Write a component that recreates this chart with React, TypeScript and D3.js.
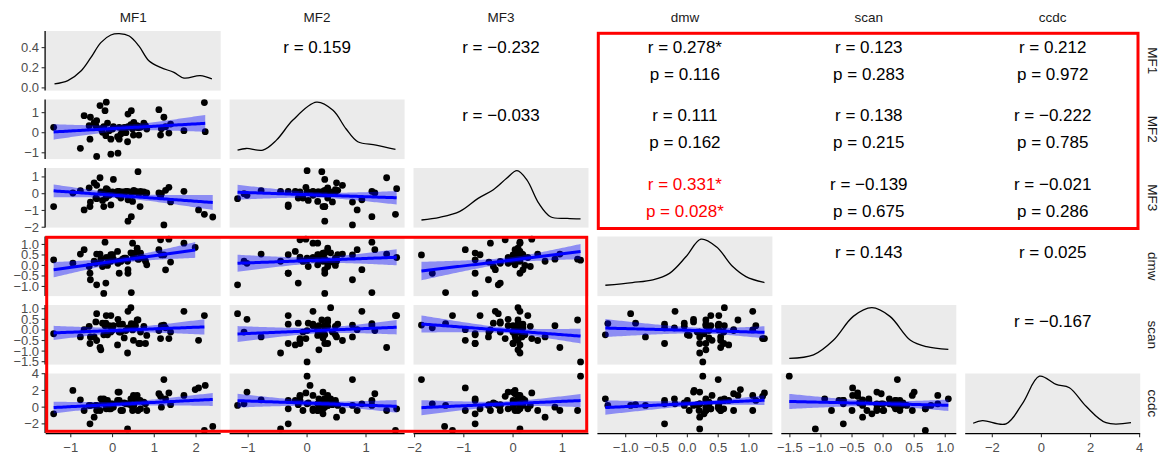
import React from "react";
import * as d3 from "d3";

// ---------- data ----------
const VARS = ["MF1", "MF2", "MF3", "dmw", "scan", "ccdc"];

const MF1 = [-1.41, -0.95, -0.77, -0.68, -0.56, -0.54, -0.53, -0.44, -0.40, -0.38, -0.38, -0.30, -0.28, -0.24, -0.21, -0.18, -0.16, -0.15, -0.12, -0.08, -0.04, -0.04, 0.00, 0.02, 0.12, 0.13, 0.16, 0.16, 0.20, 0.24, 0.28, 0.32, 0.36, 0.37, 0.37, 0.44, 0.45, 0.48, 0.50, 0.51, 0.55, 0.59, 0.61, 0.63, 0.66, 0.67, 0.75, 0.79, 0.82, 1.11, 1.15, 1.17, 1.23, 1.27, 1.35, 1.39, 1.71, 1.98, 2.06, 2.20, 2.22, 2.40, null];
const MF2 = [0.27, null, -0.78, 0.85, 0.35, -0.32, 0.77, 0.5, 0.35, 0.6, -1.18, 1.35, 0.2, 0.02, 0.3, 1.1, -0.15, 1.52, 0.48, 0.1, -0.32, -1.07, 0.18, 0.3, -0.2, -1.02, -0.32, 0.27, -0.07, 0.1, 0.27, 0.0, -0.45, 0.93, 0.3, 0.4, 1.1, 0.18, -0.12, 0.52, 0.3, 0.35, 0.25, -0.12, 0.3, 0.27, 0.48, 0.35, 0.18, 1.15, -0.12, 0.2, 0.77, 0.3, -0.02, 0.43, 0.1, null, null, 1.5, 0.05, null, 0.0];
const MF3 = [-0.77, 0.04, 0.18, -0.97, 0.35, -0.77, -0.5, 0.65, -0.26, 0.5, -0.3, 0.95, 0.1, -0.4, -0.77, 0.14, -0.26, 0.3, 0.24, -0.1, -0.67, 0.0, 0.1, 0.85, 0.14, -0.1, 0.14, 0.0, -0.26, 0.1, 0.05, 0.14, 0.14, -0.36, -1.64, 0.1, -1.37, -0.46, 0.1, 0.2, 0.14, 0.1, 1.31, 0.0, -0.77, 0.14, 0.1, 0.0, 0.04, 0.04, -0.16, 0.0, -1.86, 0.2, 0.38, -0.49, 0.14, null, -0.97, -1.23, null, -1.39, 1.37];
const DMW = [0.27, 0.11, 0.54, 0.75, -0.05, -0.37, -0.68, 0.2, 0.1, 0.54, -0.92, 0.54, 0.3, -0.05, -1.33, 1.11, -0.84, 0.38, 0.0, 0.38, 0.51, 0.2, 0.51, 0.3, 0.67, 0.1, -0.37, 0.2, 0.19, 0.3, 0.35, 0.35, 0.2, -0.2, -0.37, 0.6, -1.29, 1.06, 0.4, 0.51, 0.6, 0.82, 0.3, 0.3, 0.59, 0.59, 0.35, 0.2, 0.03, 0.75, 1.22, 0.5, 0.5, -0.21, 1.25, 0.16, 1.06, 0.86, null, null, null, null, 0.25];
const SCAN = [-0.18, null, -0.33, 0.01, 0.17, -0.64, -0.33, -0.33, 0.38, -0.5, 0.77, -0.83, -0.94, 0.32, -0.23, 0.2, 0.32, 0.68, -0.23, 0.2, 0.68, -0.1, 0.0, 0.2, -0.71, 0.5, 0.27, -0.1, -0.1, 0.27, -0.38, -0.03, -1.09, 0.88, 0.1, 1.05, 0.3, 0.0, -0.49, 0.27, 0.2, 0.47, 0.47, -0.64, -0.64, -0.1, 0.17, -0.64, -0.26, -0.03, -0.41, 0.2, 0.23, 0.1, -0.41, -0.1, 0.88, null, -0.49, 0.68, null, null, -1.51];
const CCDC = [-0.8, 2.0, 0.88, -0.4, 0.2, -2.0, 0.2, -1.2, 0.2, -0.4, 0.2, -0.4, 1.0, 0.5, 1.0, 0.8, 0.3, -0.2, 0.8, -0.2, -0.2, 0.4, 0.4, 0.0, 0.8, 1.8, 0.8, 1.8, -0.4, -0.4, 0.5, 0.4, -2.6, 0.4, 0.4, 1.0, 0.2, -0.4, 1.4, 0.2, 0.8, 1.4, -0.4, 0.8, 0.8, -0.2, 0.6, 0.4, -0.4, 1.6, 1.3, 0.0, 3.3, 1.0, 1.7, 0.3, 1.4, 2.1, 2.3, -2.78, 2.6, -2.3, 3.7];

const DATA: Record<string, (number | null)[]> = { MF1, MF2, MF3, dmw: DMW, scan: SCAN, ccdc: CCDC };

// density curves
const DENS_MF1_X = [-1.39, -1.07, -0.75, -0.52, -0.28, -0.04, 0.16, 0.40, 0.63, 0.87, 1.15, 1.47, 1.71, 2.10, 2.38];
const DENS_MF1_Y = [0.039, 0.072, 0.17, 0.30, 0.45, 0.525, 0.538, 0.515, 0.417, 0.27, 0.203, 0.154, 0.098, 0.121, 0.089];
const DENS_MF2_X = [-1.18, -1.03, -0.75, -0.52, -0.24, 0.16, 0.44, 0.66, 0.86, 1.17, 1.50];
const DENS_MF2_Y = [0.115, 0.146, 0.115, 0.3, 0.67, 1.0, 0.85, 0.51, 0.27, 0.21, 0.13];
const DENS_MF3_X = [-1.86, -1.49, -1.08, -0.71, -0.40, -0.13, 0.08, 0.28, 0.52, 0.76, 1.10, 1.37];
const DENS_MF3_Y = [0.09, 0.14, 0.25, 0.49, 0.65, 0.86, 1.0, 0.83, 0.4, 0.15, 0.12, 0.11];
const DENS_DMW_X = [-1.33, -0.89, -0.56, -0.29, -0.02, 0.22, 0.47, 0.74, 0.95, 1.25];
const DENS_DMW_Y = [0.15, 0.2, 0.25, 0.37, 0.68, 1.0, 0.86, 0.49, 0.31, 0.2];
const DENS_SCAN_X = [-1.51, -1.12, -0.80, -0.48, -0.18, 0.11, 0.44, 0.70, 1.05];
const DENS_SCAN_Y = [0.065, 0.13, 0.4, 0.84, 1.0, 0.84, 0.4, 0.28, 0.23];
const DENS_CCDC_X = [-2.78, -2.40, -1.44, -0.76, -0.08, 0.60, 1.14, 1.82, 2.63, 3.65];
const DENS_CCDC_Y = [0.13, 0.18, 0.12, 0.5, 0.99, 0.84, 0.78, 0.44, 0.14, 0.14];

const DENS: Record<string, [number[], number[]]> = {
  MF1: [DENS_MF1_X, DENS_MF1_Y],
  MF2: [DENS_MF2_X, DENS_MF2_Y],
  MF3: [DENS_MF3_X, DENS_MF3_Y],
  dmw: [DENS_DMW_X, DENS_DMW_Y],
  scan: [DENS_SCAN_X, DENS_SCAN_Y],
  ccdc: [DENS_CCDC_X, DENS_CCDC_Y],
};

// tick labels
const TICKS: Record<string, number[]> = {
  MF1: [-1, 0, 1, 2],
  MF2: [-1, 0, 1],
  MF3: [-2, -1, 0, 1],
  dmw: [-1.0, -0.5, 0.0, 0.5, 1.0],
  scan: [-1.5, -1.0, -0.5, 0.0, 0.5, 1.0],
  ccdc: [-2, 0, 2, 4],
};
const TICK_FMT: Record<string, string> = { MF1: "d", MF2: "d", MF3: "d", dmw: ".1f", scan: ".1f", ccdc: "d" };
const DENS_TICKS = [0.0, 0.2, 0.4];

// correlation text (upper triangle)
const CORR_ROW = [0, 0, 1, 0, 0, 0, 1, 1, 1, 2, 2, 2, 3, 3, 4];
const CORR_COL = [1, 2, 2, 3, 4, 5, 3, 4, 5, 3, 4, 5, 4, 5, 5];
const CORR_R = ["0.159", "−0.232", "−0.033", "0.278*", "0.123", "0.212", "0.111", "0.138", "−0.222", "0.331*", "−0.139", "−0.021", "0.143", "0.025", "−0.167"];
const CORR_P = [null, null, null, "0.116", "0.283", "0.972", "0.162", "0.215", "0.785", "0.028*", "0.675", "0.286", null, null, null];
const CORR_HL = [false, false, false, false, false, false, false, false, false, true, false, false, false, false, false];

// ---------- layout ----------
const W = 1161, H = 456;
const L = 45.7, T = 31, PW = 175, PH = 59.6, G = 8.9;
const colX = (j: number) => L + j * (PW + G);
const rowY = (i: number) => T + i * (PH + G);
const FONT = "'Liberation Sans', Arial, Helvetica, sans-serif";
const PANEL_BG = "#ebebeb";

const expand = (e: [number, number]): [number, number] => {
  const d = e[1] - e[0];
  return [e[0] - 0.05 * d, e[1] + 0.05 * d];
};

const domains = VARS.map((v) => expand(d3.extent(DATA[v].filter((x) => x != null) as number[]) as [number, number]));
const xScales = VARS.map((v, k) => d3.scaleLinear().domain(domains[k]).range([colX(k), colX(k) + PW]));
const yScales = VARS.map((v, k) => d3.scaleLinear().domain(domains[k]).range([rowY(k) + PH, rowY(k)]));

function lmBand(xs: number[], ys: number[]) {
  const n = xs.length;
  const mx = d3.mean(xs)!, my = d3.mean(ys)!;
  let sxx = 0, sxy = 0;
  for (let k = 0; k < n; k++) { sxx += (xs[k] - mx) ** 2; sxy += (xs[k] - mx) * (ys[k] - my); }
  const b = sxy / sxx, a = my - b * mx;
  let rss = 0;
  for (let k = 0; k < n; k++) rss += (ys[k] - a - b * xs[k]) ** 2;
  const s = Math.sqrt(rss / (n - 2));
  const t = 1.96 + 2.5 / (n - 2);
  const [x0, x1] = d3.extent(xs) as [number, number];
  return d3.range(80).map((k) => {
    const x = x0 + ((x1 - x0) * k) / 79;
    const yh = a + b * x;
    const se = s * Math.sqrt(1 / n + (x - mx) ** 2 / sxx);
    return { x, yh, lo: yh - t * se, hi: yh + t * se };
  });
}

function Scatter({ i, j }: { i: number; j: number }) {
  const xv = DATA[VARS[j]], yv = DATA[VARS[i]];
  const pts: [number, number][] = [];
  xv.forEach((x, k) => { const y = yv[k]; if (x != null && y != null) pts.push([x, y]); });
  const xs = xScales[j], ys = yScales[i];
  const band = lmBand(pts.map((p) => p[0]), pts.map((p) => p[1]));
  const area = d3.area<any>().x((d) => xs(d.x)).y0((d) => ys(d.lo)).y1((d) => ys(d.hi));
  const line = d3.line<any>().x((d) => xs(d.x)).y((d) => ys(d.yh));
  return (
    <g>
      <rect x={colX(j)} y={rowY(i)} width={PW} height={PH} fill={PANEL_BG} />
      {pts.map((p, k) => (
        <circle key={k} cx={xs(p[0])} cy={ys(p[1])} r={3.4} fill="#000" />
      ))}
      <path d={area(band)!} fill="#0000ff" fillOpacity={0.4} />
      <path d={line(band)!} fill="none" stroke="#0000ff" strokeWidth={3} />
    </g>
  );
}

function densityScale(k: number) {
  const ys = DENS[VARS[k]][1];
  const mx = d3.max(ys)!;
  return d3.scaleLinear().domain([-0.05 * mx, mx * 1.05]).range([rowY(k) + PH, rowY(k)]);
}

function Density({ k }: { k: number }) {
  const [dx, dy] = DENS[VARS[k]];
  const xs = xScales[k];
  const ys = densityScale(k);
  const line = d3.line<number>().x((d, m) => xs(dx[m])).y((d) => ys(d)).curve(d3.curveCatmullRom.alpha(0.5));
  return (
    <g>
      <rect x={colX(k)} y={rowY(k)} width={PW} height={PH} fill={PANEL_BG} />
      <path d={line(dy)!} fill="none" stroke="#000" strokeWidth={1.3} />
    </g>
  );
}

function Corr({ c }: { c: number }) {
  const i = CORR_ROW[c], j = CORR_COL[c];
  const cx = colX(j) + PW / 2;
  const cy = rowY(i) + PH / 2;
  const col = CORR_HL[c] ? "#ff0000" : "#000";
  const p = CORR_P[c];
  return (
    <g fontFamily={FONT} fontSize={17} fill={col} textAnchor="middle">
      <text x={cx} y={cy - 13.5} dominantBaseline="central">{`r = ${CORR_R[c]}`}</text>
      {p && <text x={cx} y={cy + 13.5} dominantBaseline="central">{`p = ${p}`}</text>}
    </g>
  );
}

function LeftAxis({ i }: { i: number }) {
  const ys = i === 0 ? densityScale(0) : yScales[i];
  const ticks = i === 0 ? DENS_TICKS : TICKS[VARS[i]];
  const fmt = d3.format(i === 0 ? ".1f" : TICK_FMT[VARS[i]]);
  const x0 = L - 0.6;
  return (
    <g>
      <line x1={x0} x2={x0} y1={rowY(i)} y2={rowY(i) + PH} stroke="#000" strokeWidth={1.3} />
      {ticks.map((t) => (
        <g key={t}>
          <line x1={x0 - 3.5} x2={x0} y1={ys(t)} y2={ys(t)} stroke="#333" strokeWidth={1.1} />
          <text x={x0 - 6} y={ys(t)} textAnchor="end" dominantBaseline="central" fontFamily={FONT} fontSize={13} fill="#4d4d4d">
            {fmt(t)}
          </text>
        </g>
      ))}
    </g>
  );
}

function BottomAxis({ j }: { j: number }) {
  const xs = xScales[j];
  const ticks = TICKS[VARS[j]];
  const fmt = d3.format(TICK_FMT[VARS[j]]);
  const y0 = rowY(5) + PH + 0.6;
  return (
    <g>
      <line x1={colX(j)} x2={colX(j) + PW} y1={y0} y2={y0} stroke="#000" strokeWidth={1.3} />
      {ticks.map((t) => (
        <g key={t}>
          <line x1={xs(t)} x2={xs(t)} y1={y0} y2={y0 + 3.5} stroke="#333" strokeWidth={1.1} />
          <text x={xs(t)} y={y0 + 13.5} textAnchor="middle" dominantBaseline="central" fontFamily={FONT} fontSize={13} fill="#4d4d4d">
            {fmt(t)}
          </text>
        </g>
      ))}
    </g>
  );
}

// annotation rectangles (outlines around the two highlighted blocks)
const HL_RECTS = [
  { x0: 598.3, y0: 33.3, x1: 1138, y1: 228.5 },
  { x0: 46.7, y0: 237.3, x1: 586.7, y1: 431.3 },
];

export default function App() {
  const cells: React.ReactNode[] = [];
  for (let i = 0; i < 6; i++) {
    for (let j = 0; j < 6; j++) {
      if (i === j) cells.push(<Density key={`d${i}`} k={i} />);
      else if (i > j) cells.push(<Scatter key={`s${i}-${j}`} i={i} j={j} />);
    }
  }
  return (
    <svg width={W} height={H} style={{ position: "absolute", left: 0, top: 0, background: "#fff" }}>
      <rect x={0} y={0} width={W} height={H} fill="#fff" />
      {cells}
      {CORR_ROW.map((_, c) => <Corr key={`c${c}`} c={c} />)}
      {VARS.map((v, k) => (
        <text key={`ts${v}`} x={colX(k) + PW / 2} y={17} textAnchor="middle" dominantBaseline="central" fontFamily={FONT} fontSize={13.5} fill="#1a1a1a">
          {v}
        </text>
      ))}
      {VARS.map((v, k) => (
        <text key={`rs${v}`} transform={`translate(${1152.5},${rowY(k) + PH / 2}) rotate(90)`} textAnchor="middle" dominantBaseline="central" fontFamily={FONT} fontSize={13.5} fill="#1a1a1a">
          {v}
        </text>
      ))}
      {VARS.map((v, i) => <LeftAxis key={`la${i}`} i={i} />)}
      {VARS.map((v, j) => <BottomAxis key={`ba${j}`} j={j} />)}
      {HL_RECTS.map((r, k) => (
        <rect key={`hl${k}`} x={r.x0} y={r.y0} width={r.x1 - r.x0} height={r.y1 - r.y0} fill="none" stroke="#ff0000" strokeWidth={3} />
      ))}
    </svg>
  );
}
